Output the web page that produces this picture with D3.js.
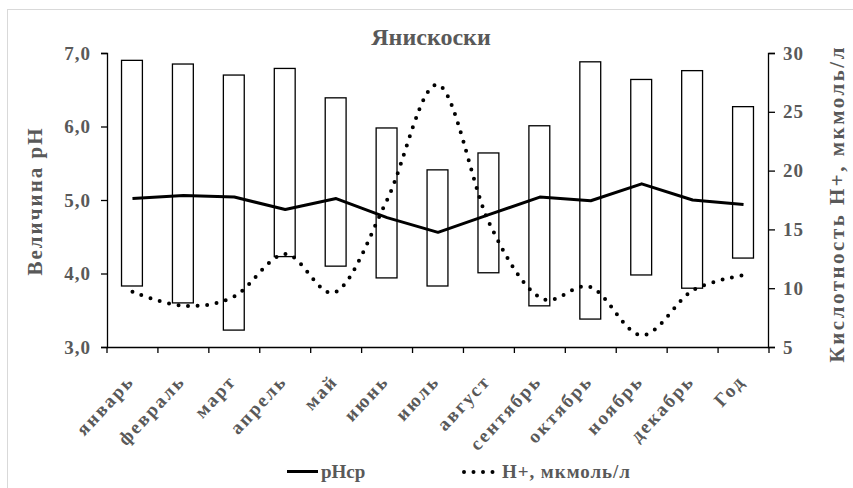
<!DOCTYPE html>
<html><head><meta charset="utf-8">
<script src="https://cdn.jsdelivr.net/npm/d3@7"></script>
<style>
body{margin:0;background:#fff;}
svg text{font-family:"Liberation Serif","DejaVu Serif",serif;font-weight:bold;fill:#595959;}
</style></head>
<body><svg id="c" width="853" height="488"></svg>
<script>
const categories = ["январь","февраль","март","апрель","май","июнь","июль","август","сентябрь","октябрь","ноябрь","декабрь","Год"];
const phMax  = [6.90,6.85,6.70,6.79,6.39,5.98,5.41,5.64,6.01,6.88,6.64,6.76,6.27];
const phMin  = [3.83,3.60,3.23,4.23,4.10,3.94,3.83,4.01,3.56,3.38,3.98,3.80,4.21];
const phMean = [5.02,5.06,5.04,4.87,5.02,4.76,4.56,4.80,5.04,4.99,5.22,5.00,4.94];
const hPlus  = [9.7,8.5,9.3,12.9,9.7,17.5,27.3,15.6,9.2,10.1,6.0,9.8,11.1];
const leftTicks = [3,4,5,6,7];
const rightTicks = [5,10,15,20,25,30];

const FONT = '"Liberation Serif","DejaVu Serif",serif';
const svg = d3.select("#c");
svg.append("rect").attr("x",7.5).attr("y",9.5).attr("width",860).attr("height",500)
  .attr("fill","none").attr("stroke","#d9d9d9");

const x = d3.scaleBand().domain(categories).range([107,769]);
const yL = d3.scaleLinear().domain([3,7]).range([347,53]);
const yR = d3.scaleLinear().domain([5,30]).range([347,53]);
const cx = d => x(d) + x.bandwidth()/2;
const bw = x.bandwidth()*0.41;

svg.append("g").selectAll("rect").data(categories).join("rect")
  .attr("x",(d)=>cx(d)-bw/2-0.5)
  .attr("width",bw)
  .attr("y",(d,i)=>yL(phMax[i]))
  .attr("height",(d,i)=>yL(phMin[i])-yL(phMax[i]))
  .attr("fill","#fff").attr("stroke","#000").attr("stroke-width",1.3);

const gL = svg.append("g").attr("transform","translate(107,0)")
  .call(d3.axisLeft(yL).tickValues(leftTicks).tickSize(6).tickPadding(10)
    .tickFormat(d=>d.toFixed(1).replace(".",",")));
const gR = svg.append("g").attr("transform","translate(769,0)")
  .call(d3.axisRight(yR).tickValues(rightTicks).tickSize(6).tickPadding(8));
const gB = svg.append("g").attr("transform","translate(0,347)")
  .call(d3.axisBottom(x).tickSize(0).tickFormat(""));
[gL,gR,gB].forEach(g=>{
  g.attr("font-family",null).attr("font-size",null);
  g.select(".domain").attr("stroke","#000").attr("stroke-width",1.3);
  g.selectAll(".tick line").attr("stroke","#000").attr("stroke-width",1.3);
  g.selectAll(".tick text").style("font-size","19px").style("fill","#595959")
   .style("font-family",FONT).style("font-weight","bold").style("letter-spacing","1px");
});
gL.select(".domain").attr("d","M-6,53.5H0.5V347.5H-6");
gR.select(".domain").attr("d","M6,53.5H-0.5V347.5H6");
gB.select(".domain").attr("d","M107,0.5H769");
const bounds = categories.map(c=>x(c)).concat([x.range()[1]]);
gB.selectAll("line.b").data(bounds).join("line").attr("class","b")
  .attr("x1",d=>d).attr("x2",d=>d).attr("y1",0).attr("y2",6)
  .attr("stroke","#000").attr("stroke-width",1.3);

svg.append("g").selectAll("text").data(categories).join("text")
  .attr("transform",d=>`translate(${cx(d)-7},373) rotate(-47)`)
  .attr("text-anchor","end").attr("dy","0.7em")
  .style("font-size","19px").style("letter-spacing","2.2px")
  .text(d=>d);

svg.append("path").datum(phMean)
  .attr("d",d3.line().x((d,i)=>cx(categories[i])).y(d=>yL(d)))
  .attr("fill","none").attr("stroke","#000").attr("stroke-width",3).attr("stroke-linejoin","round");

svg.append("path").datum(hPlus)
  .attr("d",d3.line().x((d,i)=>cx(categories[i])).y(d=>yR(d)).curve(d3.curveCardinal.tension(0)))
  .attr("fill","none").attr("stroke","#000").attr("stroke-width",4)
  .attr("stroke-dasharray","0 9.6").attr("stroke-linecap","round");

svg.append("text").attr("x",431).attr("y",45).attr("text-anchor","middle")
  .style("font-size","24px").text("Янискоски");

svg.append("text").attr("transform","translate(42,202) rotate(-90)").attr("text-anchor","middle")
  .style("font-size","21px").attr("textLength",147).attr("lengthAdjust","spacing").text("Величина pH");
svg.append("text").attr("transform","translate(844,205) rotate(-90)").attr("text-anchor","middle")
  .style("font-size","21px").attr("textLength",315).attr("lengthAdjust","spacing").text("Кислотность Н+, мкмоль/л");

const lg = svg.append("g");
lg.append("line").attr("x1",287).attr("x2",318).attr("y1",471.5).attr("y2",471.5)
  .attr("stroke","#000").attr("stroke-width",3);
lg.append("text").attr("x",321).attr("y",478).style("font-size","19px").text("pHср");
lg.append("line").attr("x1",464).attr("x2",499).attr("y1",472).attr("y2",472)
  .attr("stroke","#000").attr("stroke-width",4).attr("stroke-dasharray","0 9.5").attr("stroke-linecap","round");
lg.append("text").attr("x",502).attr("y",478).style("font-size","19px").attr("textLength",128).attr("lengthAdjust","spacing").text("Н+, мкмоль/л");
</script></body></html>
